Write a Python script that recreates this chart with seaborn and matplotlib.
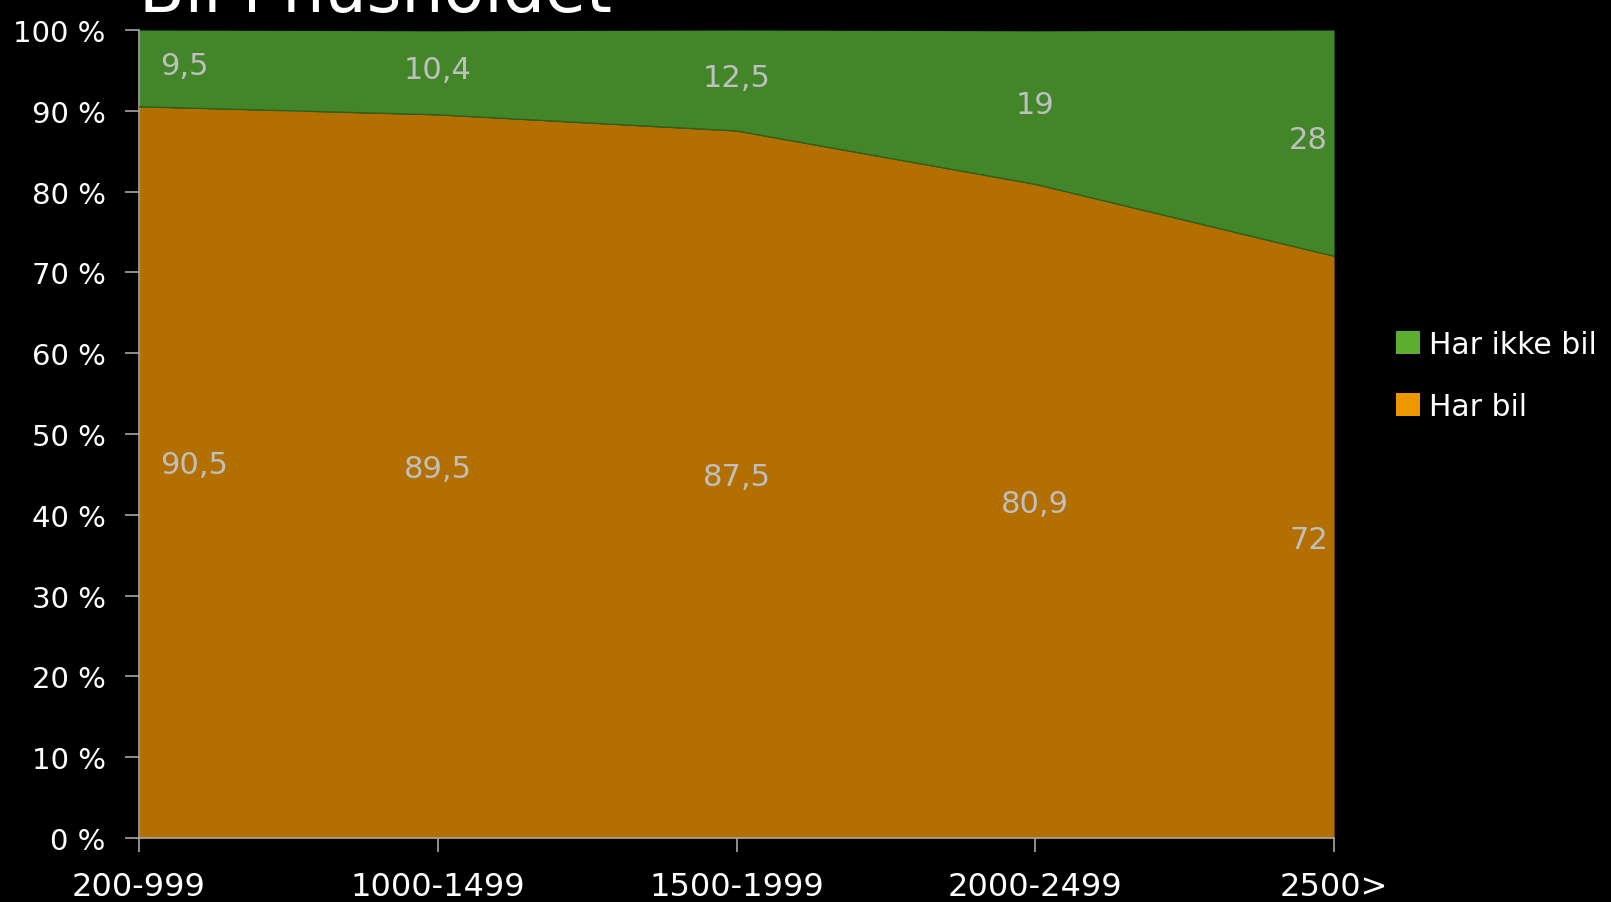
import matplotlib
matplotlib.use("Agg")
import matplotlib.pyplot as plt
import matplotlib.ticker as mticker
from matplotlib.patches import Patch
import numpy as np
import pandas as pd
import seaborn as sns

# data
categories = ['200-999', '1000-1499', '1500-1999', '2000-2499', '2500>']
har_bil = [90.5, 89.5, 87.5, 80.9, 72]
har_ikke_bil = [9.5, 10.4, 12.5, 19, 28]
label_bil = ['90,5', '89,5', '87,5', '80,9', '72']
label_ikke = ['9,5', '10,4', '12,5', '19', '28']

orange = '#B36F00'
green = '#43862A'

sns.set_theme(style='dark', rc={
    'figure.facecolor': 'black',
    'axes.facecolor': 'black',
    'axes.edgecolor': '#A6A6A6',
    'text.color': 'white',
    'xtick.color': '#A6A6A6',
    'ytick.color': '#A6A6A6',
    'xtick.labelcolor': 'white',
    'ytick.labelcolor': 'white',
    'xtick.bottom': True,
    'ytick.left': True,
})
plt.rcParams['font.family'] = ['DejaVu Sans']

df = pd.DataFrame({'kat': categories, 'bil': har_bil, 'ikke': har_ikke_bil})
df['x'] = np.arange(len(df))
df['top'] = df['bil'] + df['ikke']

fig = plt.figure(figsize=(16.11, 9.03), dpi=100)
ax = fig.add_axes([0.0863, 0.0709, 0.7418, 0.8948])

for v in range(10, 100, 10):
    ax.axhline(v, color='#A6A6A6', lw=1, zorder=0)

ax.fill_between(df['x'], 0, df['bil'], color=orange, lw=0, zorder=2)
ax.fill_between(df['x'], df['bil'], df['top'], color=green, lw=0, zorder=2)
sns.lineplot(data=df, x='x', y='bil', ax=ax, color='#2F5E1D', lw=1, zorder=3)

ax.set_xlim(0, len(df) - 1)
ax.set_ylim(0, 100)
ax.set_xticks(df['x'])
ax.set_xticklabels(categories, fontsize=23)
ax.yaxis.set_major_locator(mticker.MultipleLocator(10))
ax.yaxis.set_major_formatter(mticker.FuncFormatter(lambda v, p: '%d %%' % v))
ax.tick_params(axis='y', left=True, labelsize=21, length=10, width=1.2, pad=14)
ax.tick_params(axis='x', bottom=True, length=10, width=1.2, pad=14)
ax.set_xlabel('')
ax.set_ylabel('')
for s in ['top', 'right']:
    ax.spines[s].set_visible(False)
for s in ['left', 'bottom']:
    ax.spines[s].set_color('#A6A6A6')
    ax.spines[s].set_linewidth(1.2)

n = len(df)
for i in range(n):
    if i == 0:
        ha, dx = 'left', 0.07
    elif i == n - 1:
        ha, dx = 'right', -0.02
    else:
        ha, dx = 'center', 0
    ax.text(i + dx, har_bil[i] / 2 + 1.0, label_bil[i], color='#BFBFBF', fontsize=22,
            ha=ha, va='center', zorder=4)
    ax.text(i + dx, har_bil[i] + har_ikke_bil[i] / 2 + 0.4, label_ikke[i], color='#BFBFBF',
            fontsize=22, ha=ha, va='center', zorder=4)

handles = [Patch(facecolor='#5BAE2E', edgecolor='none', label='Har ikke bil'),
           Patch(facecolor='#F09600', edgecolor='none', label='Har bil')]
leg = fig.legend(handles=handles, loc='center left', bbox_to_anchor=(0.85, 0.583),
                 frameon=False, fontsize=21.5, handlelength=0.8, handleheight=0.8,
                 handletextpad=0.3, labelspacing=1.1, labelcolor='white')

fig.text(0.0863, 0.987, 'Bil i husholdet', fontsize=48, color='white',
         ha='left', va='baseline')

fig.savefig('out.png', dpi=100, facecolor='black')
